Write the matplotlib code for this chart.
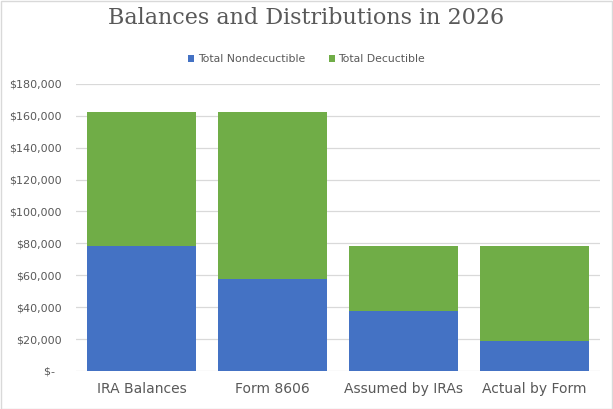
import matplotlib
matplotlib.use("Agg")
import matplotlib.pyplot as plt
from matplotlib.ticker import FuncFormatter
from matplotlib.patches import Rectangle

categories = ["IRA Balances", "Form 8606", "Assumed by IRAs", "Actual by Form"]
nondeductible = [78500, 57500, 37500, 18750]
deductible = [84000, 105000, 41000, 59750]
series_names = ["Total Nondecuctible", "Total Decuctible"]

blue = "#4472C4"
green = "#70AD47"
txt = "#595959"

fig = plt.figure(figsize=(6.13, 4.09), dpi=100)
ax = fig.add_axes([0.124, 0.093, 0.855, 0.702])

x = range(len(categories))
ax.bar(x, nondeductible, width=0.83, color=blue, label=series_names[0], zorder=3)
ax.bar(x, deductible, width=0.83, bottom=nondeductible, color=green, label=series_names[1], zorder=3)

ax.set_ylim(0, 180000)
ax.set_yticks(range(0, 180001, 20000))
ax.set_xlim(-0.5, len(categories) - 0.5)
ax.yaxis.set_major_formatter(FuncFormatter(lambda v, p: "$-  " if v == 0 else f"${v:,.0f}"))
ax.grid(axis="y", color="#D9D9D9", linewidth=0.9, zorder=0)
for s in ax.spines.values():
    s.set_visible(False)
ax.tick_params(axis="y", length=0, pad=10, labelsize=8, labelcolor=txt)
ax.tick_params(axis="x", length=0, pad=8, labelsize=10, labelcolor=txt)
ax.set_xticks(list(x))
ax.set_xticklabels(categories)

fig.text(0.5, 0.956, "Balances and Distributions in 2026", ha="center", va="center",
         fontsize=16, color=txt, family="DejaVu Serif")

leg = fig.legend(loc="center", bbox_to_anchor=(0.5, 0.856), ncol=2, frameon=False,
                 fontsize=7.8, labelcolor=txt, handlelength=0.6, handleheight=0.6,
                 handletextpad=0.3, columnspacing=2.2)

fig.patches.append(Rectangle((0.001, 0.001), 0.997, 0.997, transform=fig.transFigure,
                             fill=False, edgecolor="#D9D9D9", linewidth=1))

fig.savefig("out.png", dpi=100)
